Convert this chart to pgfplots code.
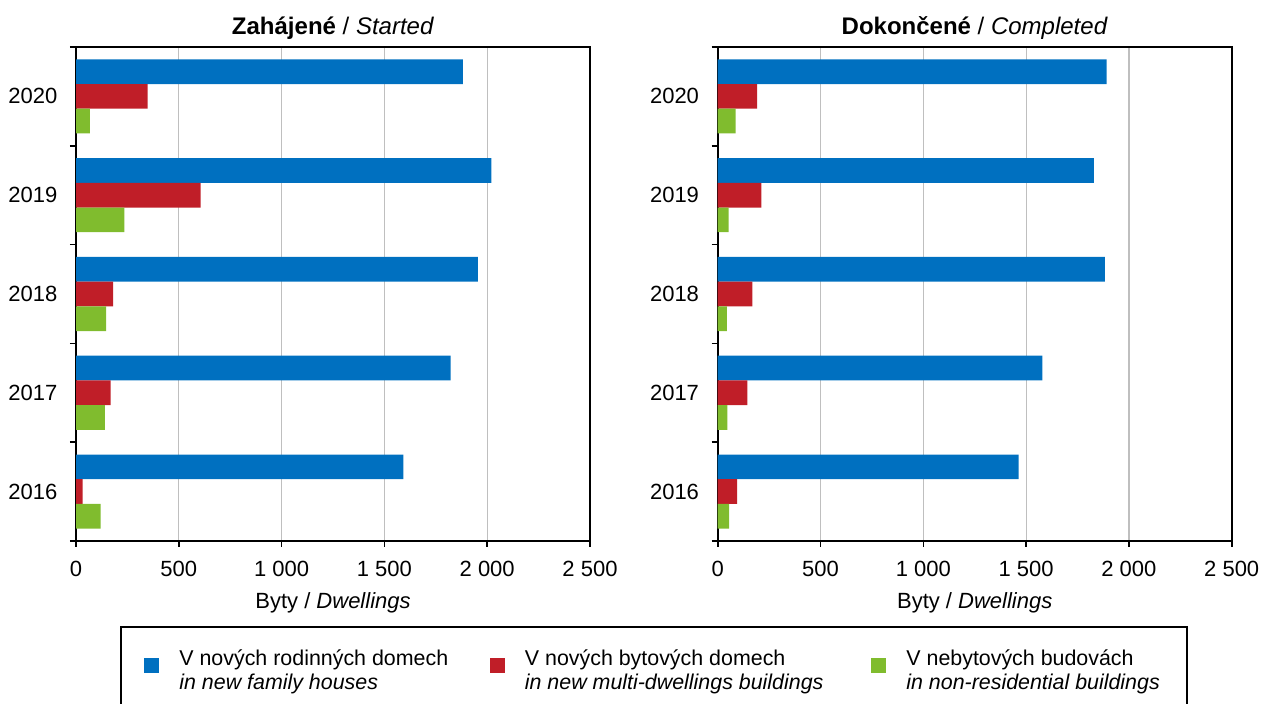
\documentclass[border=0pt]{standalone}
\usepackage{fontspec}
\setmainfont{Liberation Sans}
\usepackage{pgfplots}
\pgfplotsset{compat=1.18}
\definecolor{cblue}{RGB}{0,112,192}
\definecolor{cred}{RGB}{192,30,40}
\definecolor{cgreen}{RGB}{128,188,46}

\pgfplotsset{
  dwell/.style={
    xbar, scale only axis, width=257pt, height=247pt,
    xmin=0, xmax=2500, ymin=-0.5, ymax=4.5,
    bar width=0.25,
    xtick={0,500,...,2500},
    ytick={-0.5,0.5,...,4.5}, yticklabels={,,,,,},
    extra y ticks={0,1,2,3,4},
    extra y tick labels={2016,2017,2018,2019,2020},
    extra y tick style={major tick length=0pt, yticklabel style={xshift=-5.5pt}},
    xticklabel style={yshift=-3pt},
    tick align=outside, major tick length=3pt,
    xtick pos=bottom, ytick pos=left,
    xmajorgrids, grid style={color=black!25, line width=0.6pt},
    axis line style={line width=0.8pt},
    tick style={black, line width=0.8pt},
    scaled x ticks=false,
    /pgf/number format/assume math mode=true,
    /pgf/number format/1000 sep={\ },
    title style={at={(axis description cs:0.5,1)}, anchor=base, yshift=0pt, inner sep=0pt,
      font=\fontsize{12pt}{14pt}\selectfont},
    xlabel={Byty / \textit{Dwellings}},
    xlabel style={at={(axis description cs:0.5,0)}, anchor=base, yshift=-34pt, inner sep=0pt},
    legend image code/.code={\fill[##1] (0pt,-3.75pt) rectangle (7.5pt,3.75pt);},
  }
}

\begin{document}
\fontsize{11pt}{13.2pt}\selectfont
\begin{tikzpicture}
\path[use as bounding box] (0,0) rectangle (630.5pt,352pt);

\begin{axis}[dwell, at={(38pt,81.5pt)}, anchor=south west,
  title={\textbf{Zahájené} / \textit{Started}},
  legend columns=3,
  legend style={draw=none, fill=none, at={(axis description cs:0.1323,-0.252)},
    anchor=west, inner sep=0pt, nodes={inner sep=0pt},
    font=\fontsize{10.7pt}{12pt}\selectfont,
    /tikz/every odd column/.append style={column sep=10pt}},
]
\addplot[fill=cblue, draw=none, bar shift=0.25] coordinates {
  (1592,0) (1822,1) (1955,2) (2020,3) (1882,4)};
\addlegendentry{\parbox[c]{155.25pt}{V nových rodinných domech\\\textit{in new family houses}}}
\addplot[fill=cred, draw=none, bar shift=0] coordinates {
  (32,0) (168,1) (181,2) (606,3) (348,4)};
\addlegendentry{\parbox[c]{173.25pt}{V nových bytových domech\\\textit{in new multi-dwellings buildings}}}
\addplot[fill=cgreen, draw=none, bar shift=-0.25] coordinates {
  (120,0) (141,1) (146,2) (235,3) (68,4)};
\addlegendentry{\parbox[c]{140pt}{V nebytových budovách\\\textit{in non-residential buildings}}}
\end{axis}

\begin{axis}[dwell, at={(358.85pt,81.5pt)}, anchor=south west,
  title={\textbf{Dokončené} / \textit{Completed}},
]
\addplot[fill=cblue, draw=none, bar shift=0.25] coordinates {
  (1464,0) (1579,1) (1883,2) (1830,3) (1892,4)};
\addplot[fill=cred, draw=none, bar shift=0] coordinates {
  (94,0) (144,1) (168,2) (212,3) (192,4)};
\addplot[fill=cgreen, draw=none, bar shift=-0.25] coordinates {
  (55,0) (47,1) (45,2) (53,3) (87,4)};
\end{axis}

\draw[line width=0.6pt] (60.5pt,-2pt) rectangle (593.5pt,38.5pt);
\end{tikzpicture}
\end{document}
